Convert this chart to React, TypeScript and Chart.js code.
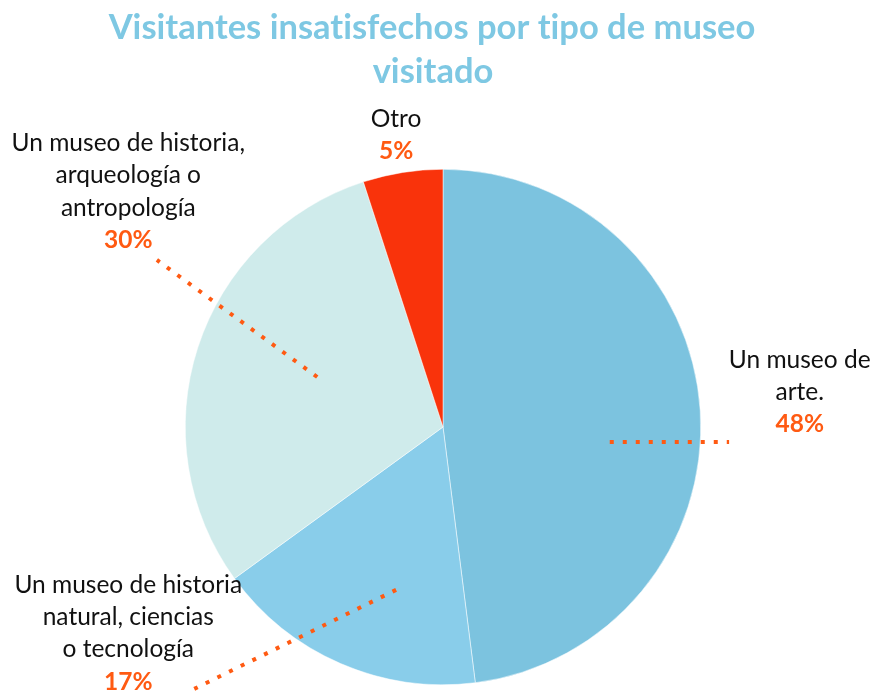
import React, { useEffect, useRef } from "react";
import { Chart, registerables } from "chart.js";

Chart.register(...registerables);

const TITLE_LINES = ["Visitantes insatisfechos por tipo de museo", "visitado"];
const CATEGORIES: string[][] = [
  ["Un museo de", "arte."],
  ["Un museo de historia", "natural, ciencias", "o tecnología"],
  ["Un museo de historia,", "arqueología o", "antropología"],
  ["Otro"],
];
const VALUES = [48, 17, 30, 5];
const COLORS = ["#7CC3DF", "#89CDEA", "#CFEBEB", "#F9330B"];

// label layout, in units of the pie radius relative to the pie centre
const LABEL_POS = [
  { x: 1.384, y: -0.26 },
  { x: -1.221, y: 0.612 },
  { x: -1.221, y: -1.101 },
  { x: -0.182, y: -1.194 },
];
const LEADERS: (number[] | null)[] = [
  [0.647, 0.058, 1.11, 0.058],
  [-0.182, 0.632, -0.965, 1.016],
  [-0.488, -0.194, -1.11, -0.648],
  null,
];

const FONT = "Lato, 'Open Sans', sans-serif";
const ACCENT = "#FF5A12";

const labelPlugin = {
  id: "customLabels",
  afterDatasetsDraw(chart: any) {
    const ctx = chart.ctx as CanvasRenderingContext2D;
    const meta = chart.getDatasetMeta(0);
    const arc0 = meta.data[0] as any;
    const cx = arc0.x;
    const cy = arc0.y;
    const R = arc0.outerRadius;
    ctx.save();
    // leaders
    ctx.strokeStyle = ACCENT;
    ctx.lineWidth = 4;
    ctx.setLineDash([4, 9]);
    LEADERS.forEach((l) => {
      if (!l) return;
      ctx.beginPath();
      ctx.moveTo(cx + l[0] * R, cy + l[1] * R);
      ctx.lineTo(cx + l[2] * R, cy + l[3] * R);
      ctx.stroke();
    });
    ctx.setLineDash([]);
    // labels
    ctx.textAlign = "center";
    ctx.textBaseline = "middle";
    const lh = 32.3;
    CATEGORIES.forEach((lines, i) => {
      const x = cx + LABEL_POS[i].x * R;
      let y = cy + LABEL_POS[i].y * R;
      ctx.fillStyle = "#111111";
      ctx.font = `24.5px ${FONT}`;
      lines.forEach((ln) => {
        ctx.fillText(ln, x, y);
        y += lh;
      });
      ctx.fillStyle = ACCENT;
      ctx.font = `bold 24.5px ${FONT}`;
      ctx.fillText(`${VALUES[i]}%`, x, y);
    });
    // title
    ctx.fillStyle = "#7EC8E3";
    ctx.font = `bold 34.5px ${FONT}`;
    ctx.textBaseline = "alphabetic";
    try {
      (ctx as any).letterSpacing = "0.01px";
    } catch (e) {}
    ctx.fillText(TITLE_LINES[0], 432, 39);
    ctx.fillText(TITLE_LINES[1], 433, 83);
    ctx.restore();
  },
};

export default function App() {
  const ref = useRef<HTMLCanvasElement>(null);
  useEffect(() => {
    if (!ref.current) return;
    const chart = new Chart(ref.current, {
      type: "pie",
      data: {
        labels: CATEGORIES.map((c) => c.join(" ")),
        datasets: [
          {
            data: VALUES,
            backgroundColor: COLORS,
            borderColor: "#ffffff",
            borderWidth: 0.5,
          },
        ],
      },
      options: {
        animation: false,
        responsive: false,
        maintainAspectRatio: false,
        layout: { padding: { left: 185, right: 174, top: 169, bottom: 6 } },
        plugins: {
          legend: { display: false },
          tooltip: { enabled: false },
          title: { display: false },
        },
      },
      plugins: [labelPlugin],
    });
    return () => chart.destroy();
  }, []);
  return (
    <div style={{ position: "absolute", left: 0, top: 0, width: 875, height: 691, background: "#fff" }}>
      <canvas ref={ref} width={875} height={691} style={{ width: 875, height: 691 }} />
    </div>
  );
}
